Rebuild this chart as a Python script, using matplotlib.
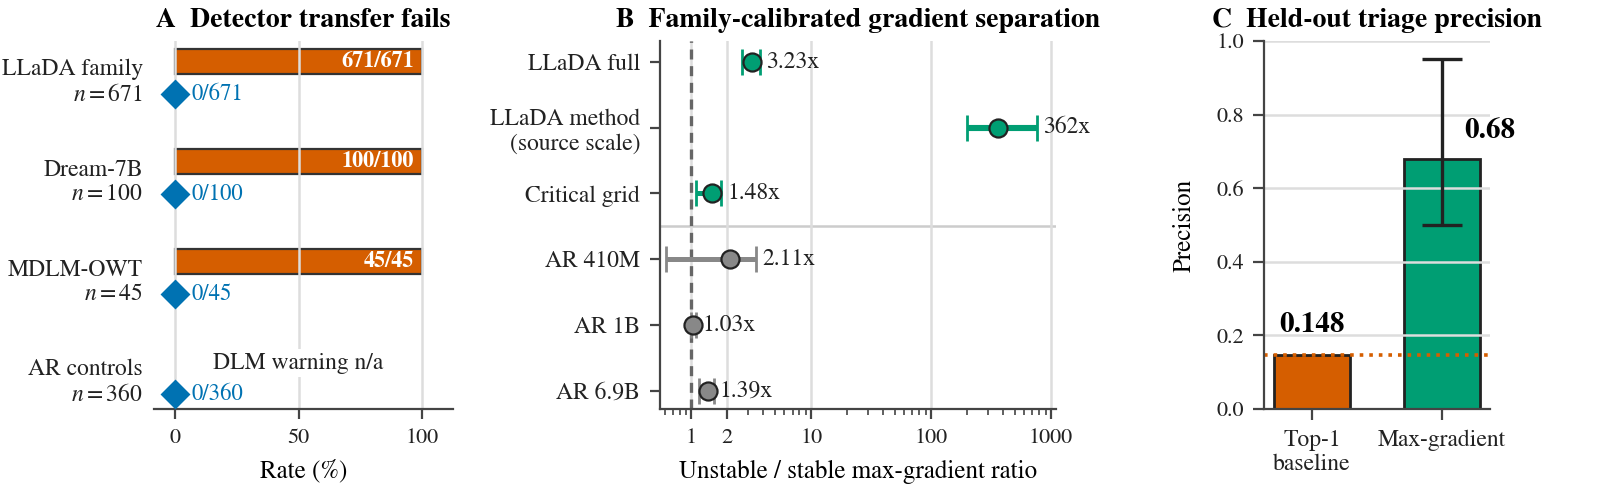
import numpy as np
import matplotlib
matplotlib.use("Agg")
import matplotlib.pyplot as plt
from matplotlib.ticker import FixedLocator, LogLocator, NullFormatter

plt.rcParams['font.family'] = ['STIXGeneral', 'Liberation Serif', 'DejaVu Serif']
plt.rcParams['mathtext.fontset'] = 'stix'
plt.rcParams['font.size'] = 8.5
plt.rcParams['xtick.labelsize'] = 8
plt.rcParams['ytick.labelsize'] = 8
plt.rcParams['axes.edgecolor'] = '#444444'
plt.rcParams['axes.linewidth'] = 0.8
plt.rcParams['xtick.color'] = '#444444'
plt.rcParams['ytick.color'] = '#444444'
plt.rcParams['xtick.labelcolor'] = '#222222'
plt.rcParams['ytick.labelcolor'] = '#222222'

ORANGE = '#D55E00'
GREEN = '#009E73'
BLUE = '#0072B2'
GREY = '#888888'
GRID = '#DDDDDD'

# panel A: detector transfer
groups = ["LLaDA family", "Dream-7B", "MDLM-OWT", "AR controls"]
group_n = [671, 100, 45, 360]
warning_hits = [671, 100, 45, None]   # None = DLM warning not applicable
detector_hits = [0, 0, 0, 0]

# panel B: unstable / stable max-gradient ratio
ratio_names = ["LLaDA full", "LLaDA method\n(source scale)", "Critical grid",
               "AR 410M", "AR 1B", "AR 6.9B"]
ratio_vals = [3.23, 362, 1.48, 2.11, 1.03, 1.39]
ratio_lo = [2.64, 200, 1.10, 0.62, 1.00, 1.17]
ratio_hi = [3.77, 770, 1.78, 3.5, 1.10, 1.55]
ratio_is_dlm = [True, True, True, False, False, False]

# panel C: held-out triage precision
triage_names = ["Top-1\nbaseline", "Max-gradient"]
triage_prec = [0.148, 0.68]
triage_ci = [None, (0.50, 0.95)]


def panel_transfer(ax):
    y = np.arange(len(groups))
    for i, (n, hits, det) in enumerate(zip(group_n, warning_hits, detector_hits)):
        if hits is not None:
            rate = 100.0 * hits / n
            ax.barh(y[i] - 0.165, rate, height=0.25, color=ORANGE,
                    edgecolor='#333333', linewidth=0.8, zorder=1)
            ax.annotate(f"{hits}/{n}", (rate, y[i] - 0.165), xytext=(-3, 0),
                        textcoords='offset points', ha='right', va='center',
                        color='white', fontweight='bold', fontsize=8)
        else:
            ax.text(50, y[i] - 0.15, "DLM warning n/a", ha='center', va='center',
                    fontsize=8.5, color='#222222',
                    bbox=dict(boxstyle='square,pad=0.15', fc='white', ec='none'))
        ax.plot(100.0 * det / n, y[i] + 0.16, marker='D', ms=6.4, color=BLUE,
                ls='', zorder=3, clip_on=False)
        ax.annotate(f"{det}/{n}", (100.0 * det / n, y[i] + 0.16), xytext=(6, 0),
                    textcoords='offset points', ha='left', va='center',
                    color=BLUE, fontsize=8.2)

    ax.set_yticks(y)
    ax.set_yticklabels([f"{g}\n$n={n}$" for g, n in zip(groups, group_n)],
                       fontsize=8.5)
    ax.tick_params(axis='y', length=0, pad=4)
    ax.set_ylim(3.31, -0.37)
    ax.set_xlim(-8.5, 112.5)
    ax.set_xticks([0, 50, 100])
    ax.set_xlabel("Rate (%)", fontsize=9)
    ax.xaxis.grid(True, color=GRID, linewidth=0.9)
    for s in ['left', 'top', 'right']:
        ax.spines[s].set_visible(False)
    ax.set_title("A  Detector transfer fails", fontweight='bold', fontsize=10, pad=5)


def panel_ratio(ax):
    y = np.arange(len(ratio_names))
    for i in range(len(ratio_names)):
        c = GREEN if ratio_is_dlm[i] else GREY
        v, lo, hi = ratio_vals[i], ratio_lo[i], ratio_hi[i]
        lw = 2.2 if i == 1 else 1.8
        ax.errorbar(v, y[i], xerr=[[v - lo], [hi - v]], fmt='none', ecolor=c,
                    elinewidth=lw, capsize=4.8, capthick=1.0, zorder=2)
        ax.plot(v, y[i], 'o', ms=6.5, color=c, mec='#222222', mew=0.8, zorder=3)
        ax.text(hi * 1.12, y[i], f"{v:g}x", ha='left', va='center',
                fontsize=8.5, color='#222222')

    ax.axvline(1, color='#666666', ls=(0, (3, 2)), lw=1.2, zorder=1.8)
    ax.axhline(2.5, color='#CCCCCC', lw=0.9, zorder=1)
    ax.set_xscale('log')
    ax.set_xlim(0.55, 1100)
    ax.xaxis.set_major_locator(FixedLocator([1, 2, 10, 100, 1000]))
    ax.set_xticklabels(["1", "2", "10", "100", "1000"])
    ax.xaxis.set_minor_locator(LogLocator(base=10, subs=np.arange(2, 10), numticks=20))
    ax.xaxis.set_minor_formatter(NullFormatter())
    ax.tick_params(axis='x', which='minor', length=2)
    ax.tick_params(axis='both', which='major', length=3.6)
    ax.xaxis.grid(True, which='major', color=GRID, linewidth=0.9)
    ax.set_yticks(y)
    ax.set_yticklabels(ratio_names, fontsize=8.5)
    ax.set_ylim(5.28, -0.32)
    ax.set_xlabel("Unstable / stable max-gradient ratio", fontsize=9)
    for s in ['top', 'right']:
        ax.spines[s].set_visible(False)
    ax.set_title("B  Family-calibrated gradient separation", fontweight='bold',
                 fontsize=10, pad=5)


def panel_triage(ax):
    x = np.arange(len(triage_names))
    ax.bar(x, triage_prec, width=0.58, color=[ORANGE, GREEN],
           edgecolor='#222222', linewidth=1.0, zorder=1)
    for i, ci in enumerate(triage_ci):
        if ci is not None:
            ax.errorbar(x[i], triage_prec[i],
                        yerr=[[triage_prec[i] - ci[0]], [ci[1] - triage_prec[i]]],
                        fmt='none', ecolor='#222222', elinewidth=1.2,
                        capsize=7.3, capthick=1.2, zorder=3)
    ax.axhline(triage_prec[0], color=ORANGE, ls=':', lw=1.3, zorder=2)
    ax.text(x[0], triage_prec[0] + 0.045, f"{triage_prec[0]:g}", ha='center',
            va='bottom', fontweight='bold', fontsize=10.5)
    ax.text(x[1] + 0.17, triage_prec[1] + 0.04, f"{triage_prec[1]:g}", ha='left',
            va='bottom', fontweight='bold', fontsize=10.5)
    ax.set_xticks(x)
    ax.set_xticklabels(triage_names, fontsize=8.5)
    ax.set_xlim(-0.37, 1.37)
    ax.set_ylim(0, 1.0)
    ax.set_yticks(np.arange(0, 1.01, 0.2))
    ax.yaxis.grid(True, color=GRID, linewidth=0.9)
    ax.tick_params(axis='both', length=3.8)
    ax.set_ylabel("Precision", fontsize=9, labelpad=7)
    for s in ['top', 'right']:
        ax.spines[s].set_visible(False)
    ax.set_title("C  Held-out triage precision", fontweight='bold', fontsize=10, pad=5)


fig = plt.figure(figsize=(7.99, 2.475), dpi=200)
W, H = 1598.0, 495.0
bottom, height = (H - 409) / H, 368 / H
axA = fig.add_axes([154 / W, bottom, 299 / W, height])
axB = fig.add_axes([660 / W, bottom, 396 / W, height])
axC = fig.add_axes([1264 / W, bottom, 226 / W, height])

panel_transfer(axA)
panel_ratio(axB)
panel_triage(axC)

fig.savefig("out.png", dpi=200)
